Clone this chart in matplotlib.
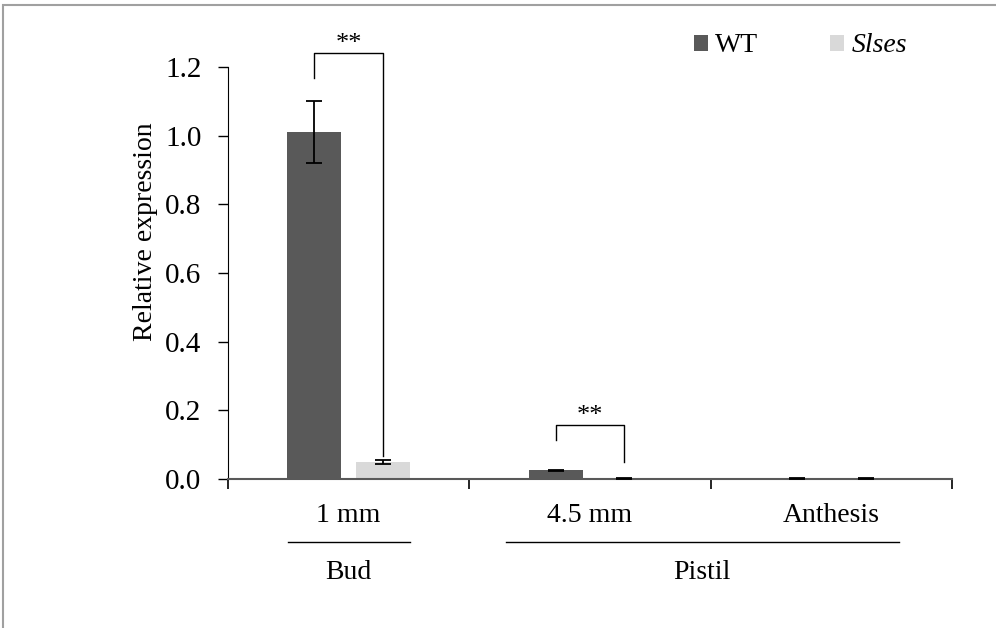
import numpy as np
import matplotlib.pyplot as plt
from matplotlib.patches import Rectangle

plt.rcParams['font.family'] = ['Liberation Serif', 'DejaVu Serif']

stages = ['1 mm', '4.5 mm', 'Anthesis']
wt = [1.01, 0.025, 0.002]
wt_err = [0.09, 0.002, 0.001]
slses = [0.05, 0.001, 0.001]
slses_err = [0.005, 0.001, 0.001]

fig = plt.figure(figsize=(9.96, 6.28), dpi=100)
ax = fig.add_axes([228 / 996, 1 - 479 / 628, 724 / 996, 412 / 628])

x = np.arange(len(stages)) + 0.5
w = 0.224
off = 0.142
ax.bar(x - off, wt, w, color='#595959', label='WT', zorder=2)
ax.bar(x + off, slses, w, color='#d9d9d9', label='Slses', zorder=2)
ax.errorbar(x - off, wt, yerr=wt_err, fmt='none', ecolor='black', elinewidth=1.3,
            capsize=6, capthick=1.3, zorder=3)
ax.errorbar(x + off, slses, yerr=slses_err, fmt='none', ecolor='black', elinewidth=1.3,
            capsize=6, capthick=1.3, zorder=3)

ax.set_xlim(0, 3)
ax.set_ylim(0, 1.2)
ax.set_yticks(np.arange(0, 1.21, 0.2))
ax.set_yticklabels([f'{v:.1f}' for v in np.arange(0, 1.21, 0.2)])
ax.set_xticks([0, 1, 2, 3])
ax.set_xticklabels([])
ax.tick_params(axis='y', labelsize=21, length=7, direction='out', width=1, pad=12)
ax.tick_params(axis='x', length=7, width=1.2, color='black')
ax.spines['top'].set_visible(False)
ax.spines['right'].set_visible(False)
ax.spines['bottom'].set_color('#595959')
ax.spines['bottom'].set_linewidth(1.5)
ax.set_ylabel('Relative expression', fontsize=20)
ax.yaxis.set_label_coords(-0.097, 0.6)


def bracket(x1, x2, y_top, y1_low, y2_low):
    ax.plot([x1, x1, x2, x2], [y1_low, y_top, y_top, y2_low], color='black', lw=1, clip_on=False)
    ax.text((x1 + x2) / 2, y_top + 0.026, '**', ha='center', va='center', fontsize=19)


bracket(x[0] - off, x[0] + off, 1.242, 1.168, 0.068)
bracket(x[1] - off, x[1] + off, 0.158, 0.114, 0.05)

# category labels below axis
for xi, s in zip(x, stages):
    ax.text(xi, -0.105, s, ha='center', va='center', fontsize=20, clip_on=False)
ax.plot([0.25, 0.755], [-0.183, -0.183], color='black', lw=1, clip_on=False)
ax.plot([1.15, 2.78], [-0.183, -0.183], color='black', lw=1, clip_on=False)
ax.text(0.5, -0.272, 'Bud', ha='center', va='center', fontsize=20, clip_on=False)
ax.text(1.965, -0.272, 'Pistil', ha='center', va='center', fontsize=20, clip_on=False)

leg = ax.legend(loc='upper right', bbox_to_anchor=(0.972, 1.142), ncol=2, frameon=False,
                fontsize=20, handlelength=0.5, handleheight=0.5, columnspacing=2.6,
                handletextpad=0.25)
leg.get_texts()[1].set_fontstyle('italic')

# outer frame
fig.patches.append(Rectangle((3 / 996, -0.1), 1.2, 1 - 5 / 628 + 0.1, transform=fig.transFigure,
                             fill=False, edgecolor='#a0a0a0', lw=1.5))

fig.savefig('out.png', dpi=100)
